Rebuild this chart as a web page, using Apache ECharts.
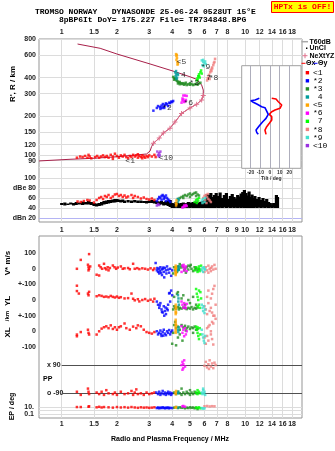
<!DOCTYPE html>
<html><head><meta charset="utf-8">
<script src="https://cdn.jsdelivr.net/npm/echarts@6/dist/echarts.min.js"></script>
<style>html,body{margin:0;padding:0;background:#fff}#c{width:335px;height:451px}</style>
</head><body><div id="c"></div>
<script>
// ---------- axis ticks ----------
const freqTicks = [1,1.5,2,3,4,5,6,7,8,10,12,14,16,18];
const freqTicksMid = [1,1.5,2,3,4,5,6,7,8,9,10,12,14,16,18];
const freqRange = [0.752, 20.4];
const heightTicks = [80,90,100,120,150,200,300,400,600,800];
const heightRange = [74.8, 800];
const dbTicks = [20,40,60,80,100];
const tiltTicks = [-20,-10,0,10,20];
const tiltRange = [-29.2, 32];
const ppLevels = [90,-90];
const epTicks = [0.1,1,10];

// ---------- classes ----------
const classNames = ['<1','*2','*3',' 4','<5','*6',' 7','*8','*9','<10'];
const classColors = ['#ff0000','#0000ff','#228b22','#009c9c','#ffa500','#ff00ff','#00ff00','#f08080','#40e0d0','#9a30e0'];

// ---------- profile (R vs plasma frequency) ----------
const profFreq   = [0.752,1.11,1.5,2.0,2.9,3.03,3.09,3.16,3.4,3.58,3.89,4.14,4.5,5.0,5.44,5.79,5.91,5.91,5.79,5.44,5.0,4.14,3.03,2.0,1.62,1.22];
const profHeight = [89.6,92.3,94,96.6,101.5,107,116,123,135,148,161,180,210,232,248,268,290,320,350,388,406,445,511,611,677,731];
const nextFreq   = [3.16,3.4,3.58,3.89,4.14,4.5,5.0,5.44,5.79,5.91];
const nextHeight = [123,135,148,161,180,210,232,248,268,290];

// ---------- tilt inset ----------
const tiltXRed  = [1.8,6.2,8.6,12.1,10.3,5.2,1.8,-0.7,1.8,1.8,-0.7,-3.4,-5.2,-4.1];
const tiltYRed  = [31.8,32.5,35.1,38.3,41.5,43.2,44.8,47.4,49.7,52.9,56.1,59.5,62.7,66.9];
const tiltXBlue = [-11,-15.5,-19.9,-17.2,-13.1,-8.6,-5.2,-6.9,-3.4,-1.8,-4.1,-7.5,-11,-14.4,-13.7,-12.1];
const tiltYBlue = [31.8,33.4,34.1,35.7,37.6,40.0,40.9,42.5,44.2,47.4,51.3,54.6,58.5,62.7,65.0,66.9];

// ---------- noise (black, dBe panel) ----------
const noiseFreq = [1.0,1.04,1.08,1.12,1.16,1.2,1.25,1.3,1.35,1.4,1.45,1.5,1.55,1.6,1.65,1.7,1.75,1.8,1.85,1.9,1.95,2.0,2.05,2.1,2.15,2.2,2.3,2.4,2.5,2.6,2.7,2.8,2.9,3.0,3.1,3.2,3.3,3.4,3.5,3.6,3.7,3.8,3.9,4.0,4.1,4.2,4.3,4.4,4.5,4.6,4.7,4.8,4.9,5.0,5.1,5.2,5.3,5.4,5.5,5.6,5.7,5.8,5.9,6.0,6.1,6.2,6.3,6.4,6.5,6.6,6.7,6.8,6.95,7.1,7.2,7.3,7.5,7.7,7.9,8.1,8.3,8.5,8.7,8.9,9.1,9.3,9.5,9.7,9.9,10.1,10.3,10.5,10.7,10.9,11.1,11.3,11.6,11.9,12.2,12.5,12.8,13.1,13.4,13.7,14.0,14.3,14.6,14.8,15.0];
const noiseLow  = [46,45,46,47,45,46,47,46,47,47,46,44,43,44,45,47,48,49,50,51,51,52,52,51,52,50,51,50,51,50,50,50,49,50,50,49,48,46,47,45,46,44,42,40,40,41,40,40,41,41,40,40,41,40,41,40,40,41,40,40,41,40,41,40,40,40,41,40,40,42,40,40,41,40,40,41,40,41,40,41,40,41,40,41,40,41,40,41,40,41,40,41,40,41,40,41,40,41,40,41,40,41,40,41,40,41,40,41,40];
const noiseHigh = [50,51,49,51,50,52,51,53,52,54,52,50,49,50,52,54,55,56,56,57,58,58,57,56,57,55,56,55,56,55,55,54,54,55,56,55,54,53,54,52,54,55,56,50,49,52,50,49,50,51,49,50,52,51,50,52,51,53,51,50,52,53,54,55,58,68,60,66,70,62,58,66,70,64,60,71,60,66,70,58,64,68,62,59,66,63,69,72,76,70,65,73,62,67,60,64,58,62,56,60,54,58,52,50,47,50,46,66,62];

// ---------- echo classes: [freq MHz, value] ----------
const c1Top = [[1.21,95],[1.26,97],[1.3,96],[1.34,98],[1.38,95],[1.42,97],[1.45,94],[1.52,96],[1.56,98],[1.6,95],[1.64,97],[1.68,99],[1.72,96],[1.76,98],[1.8,95],[1.85,100],[1.9,97],[1.95,102],[2.0,98],[2.05,95],[2.1,99],[2.15,97],[2.2,100],[2.25,96],[2.3,94],[2.35,98],[2.4,96],[2.45,100],[2.5,97],[2.55,99],[2.6,95],[2.65,98],[2.7,96],[2.75,99],[2.8,97],[2.85,95],[2.9,98],[2.95,96],[3.0,99],[3.1,97],[3.2,100],[3.25,96],[1.4,100],[1.9,93],[2.6,101],[2.75,94]];
const c1Dbe = [[1.22,53],[1.27,52],[1.32,54],[1.38,56],[1.42,55],[1.5,51],[1.55,56],[1.6,60],[1.64,62],[1.68,58],[1.72,64],[1.76,62],[1.8,66],[1.85,60],[1.9,63],[1.95,67],[2.0,68],[2.05,64],[2.1,66],[2.15,62],[2.2,65],[2.25,61],[2.3,63],[2.4,66],[2.45,60],[2.5,64],[2.6,62],[2.7,59],[2.8,61],[2.9,58],[3.0,57],[3.1,59],[3.2,56]];
const c1V = [[1.21,0],[1.27,57],[1.41,94],[1.39,26],[1.4,10],[1.41,0],[1.4,-10],[1.43,15],[1.55,-38],[1.6,-43],[1.6,21],[1.63,10],[1.66,0],[1.7,32],[1.72,4],[1.75,-4],[1.78,10],[1.8,-10],[1.83,5],[1.9,21],[1.94,10],[1.98,0],[2.02,8],[2.1,15],[2.15,0],[2.2,3],[2.3,5],[2.35,-3],[2.45,32],[2.5,0],[2.58,4],[2.65,-2],[2.75,3],[2.85,0],[2.95,-5],[3.05,3],[3.15,-8],[3.2,2]];
const c1YL = [[1.21,91],[1.21,57],[1.24,41],[1.39,41],[1.41,52],[1.4,30],[1.55,24],[1.6,30],[1.65,26],[1.7,20],[1.75,22],[1.8,18],[1.85,26],[1.9,20],[1.95,16],[2.0,22],[2.05,14],[2.1,18],[2.2,10],[2.3,12],[2.4,41],[2.45,8],[2.5,-2],[2.6,5],[2.65,-9],[2.75,0],[2.85,6],[2.95,-5],[3.05,2],[3.15,-10],[3.2,8]];
const c1XL = [[1.21,-21],[1.21,-32],[1.27,-5],[1.39,10],[1.4,-10],[1.41,-21],[1.55,-21],[1.6,0],[1.65,17],[1.7,26],[1.75,32],[1.8,20],[1.85,38],[1.9,15],[1.95,26],[2.0,10],[2.05,26],[2.1,32],[2.2,50],[2.25,20],[2.35,10],[2.45,30],[2.55,20],[2.6,38],[2.7,32],[2.8,10],[2.9,-5],[3.0,-10],[3.1,-15],[3.2,-5]];
const c1PP = [[1.21,-80],[1.27,-100],[1.39,-60],[1.4,-80],[1.41,-95],[1.55,-85],[1.6,-95],[1.65,-80],[1.7,-100],[1.75,-70],[1.8,-90],[1.9,-95],[1.95,-85],[2.0,-100],[2.1,-80],[2.2,-95],[2.3,-90],[2.4,-75],[2.45,-100],[2.5,-85],[2.55,-65],[2.6,-95],[2.7,-90],[2.8,-100],[2.9,-85],[3.0,-95],[3.1,-90],[3.2,-85]];
const c1EP = [[1.21,12],[1.27,12],[1.4,15],[1.41,20],[1.55,10],[1.6,14],[1.65,9],[1.7,12],[1.8,10],[1.9,8],[2.0,12],[2.1,9],[2.2,11],[2.3,8],[2.4,12],[2.5,9],[2.6,7],[2.7,10],[2.8,8],[2.9,9],[3.0,7],[3.1,8],[3.2,10]];
const c2Top = [[3.16,221],[3.3,232],[3.35,240],[3.43,236],[3.5,242],[3.52,232],[3.56,249],[3.6,238],[3.66,245],[3.7,252],[3.75,248],[3.8,240],[3.85,255],[3.9,253],[3.95,260],[4.0,258],[4.05,263],[3.45,228],[3.62,232]];
const c2Dbe = [[3.3,54],[3.35,58],[3.4,62],[3.45,60],[3.5,64],[3.55,66],[3.6,63],[3.65,61],[3.7,65],[3.75,60],[3.8,57],[3.85,55],[3.9,52],[3.5,56],[3.6,58],[3.7,54]];
const c2V = [[3.25,37],[3.3,-10],[3.32,5],[3.35,-20],[3.38,0],[3.4,-30],[3.42,-15],[3.45,10],[3.5,-5],[3.52,-40],[3.55,0],[3.6,-20],[3.62,-55],[3.65,5],[3.7,-10],[3.72,-30],[3.75,15],[3.8,-5],[3.85,-25],[3.9,0],[3.95,-45],[4.0,-10],[3.48,-25],[3.58,8]];
const c2YL = [[3.3,-10],[3.35,-30],[3.4,-50],[3.45,-20],[3.5,-60],[3.55,-80],[3.6,-40],[3.65,-70],[3.7,-90],[3.75,-55],[3.8,-30],[3.85,42],[3.9,-10],[3.95,60],[4.0,30],[3.62,-100],[3.52,-75],[3.42,-35],[3.78,-65],[3.68,-48],[3.88,45]];
const c2XL = [[3.3,0],[3.35,-20],[3.4,-10],[3.45,5],[3.5,-30],[3.55,-5],[3.6,10],[3.65,-15],[3.7,-25],[3.75,0],[3.8,-10],[3.85,8],[3.9,-20],[3.95,-5],[4.0,5],[3.48,-18],[3.58,-28]];
const c2PP = [[3.28,-85],[3.35,-95],[3.4,-80],[3.45,-100],[3.5,-90],[3.55,-75],[3.6,-95],[3.65,-85],[3.7,-100],[3.75,-90],[3.8,-80],[3.85,-95],[3.9,-85],[3.95,-100],[4.0,-90]];
const c2EP = [[3.3,6],[3.35,9],[3.4,5],[3.45,8],[3.5,6],[3.55,10],[3.6,7],[3.65,5],[3.7,8],[3.75,6],[3.8,9],[3.85,5],[3.9,7],[4.0,6]];
const c3Top = [[4.05,405],[4.1,398],[4.15,392],[4.1,385],[4.2,383],[4.25,378],[4.3,372],[4.35,366],[4.4,370],[4.45,362],[4.5,360],[4.55,356],[4.6,362],[4.65,352],[4.7,358],[4.8,350],[4.9,355],[5.0,352],[5.1,356],[5.2,350],[5.3,354],[5.4,358],[5.5,352],[4.2,392],[4.3,360],[4.4,355],[4.75,365],[5.0,362],[5.6,360],[5.7,365]];
const c3Dbe = [[4.3,58],[4.4,60],[4.5,62],[4.6,64],[4.7,66],[4.8,64],[4.9,67],[5.0,69],[5.1,66],[5.2,68],[5.3,70],[5.4,71],[5.5,67],[5.6,65],[4.6,60],[5.0,62],[5.4,64]];
const c3V = [[4.05,-30],[4.1,10],[4.15,-10],[4.2,5],[4.3,15],[4.35,-5],[4.4,30],[4.5,20],[4.6,10],[4.65,-10],[4.7,0],[4.8,10],[4.9,-5],[5.0,15],[5.1,0],[5.2,-15],[5.3,10],[5.4,5],[5.5,-10],[5.6,0],[4.25,-20],[4.45,8],[4.75,-25],[5.05,25],[5.35,-5],[4.9,20]];
const c3YL = [[4.05,-60],[4.1,-40],[4.15,-50],[4.2,-55],[4.3,-45],[4.35,-60],[4.4,-50],[4.5,-55],[4.6,-48],[4.7,-52],[4.8,-58],[4.9,-50],[5.0,-55],[5.1,-45],[5.2,-60],[5.3,-50],[5.4,-55],[5.5,-48],[4.3,50],[4.25,40],[4.6,30],[4.5,10],[4.9,0],[5.2,20],[4.1,20],[5.0,-20],[4.7,-30],[5.4,-30]];
const c3XL = [[4.05,-10],[4.1,40],[4.15,60],[4.2,20],[4.3,30],[4.4,10],[4.5,40],[4.6,25],[4.7,35],[4.8,20],[4.9,30],[5.0,15],[5.1,25],[5.2,20],[5.3,30],[5.4,10],[5.5,15],[4.3,-40],[4.2,-90],[4.55,-60],[4.4,-20],[5.2,-10],[4.0,-80],[4.75,5]];
const c3PP = [[4.1,-85],[4.2,-95],[4.3,-80],[4.4,-90],[4.5,-100],[4.6,-85],[4.7,-95],[4.8,-80],[4.9,-90],[5.0,-100],[5.1,-85],[5.2,-95],[5.3,-80],[5.4,-90],[5.5,-88],[4.5,-60],[5.0,-70]];
const c3EP = [[4.1,8],[4.2,12],[4.3,6],[4.4,10],[4.5,7],[4.6,9],[4.7,5],[4.8,8],[4.9,6],[5.0,10],[5.1,7],[5.2,9],[5.3,5],[5.4,8],[5.5,3]];
const c4Top = [[4.15,440],[4.2,425],[4.18,410],[4.25,400],[4.22,390],[4.3,420],[4.2,450],[4.28,430]];
const c4Dbe = [[4.3,52],[4.35,56],[4.3,58]];
const c4V = [[4.3,-10],[4.32,5],[4.35,15],[4.33,-5]];
const c4YL = [[4.3,30],[4.32,-10],[4.35,-30],[4.33,10]];
const c4XL = [[4.3,10],[4.32,-5],[4.35,25]];
const c4PP = [[4.3,-90],[4.32,-80]];
const c4EP = [[4.3,8]];
const c5Top = [[4.2,610],[4.22,590],[4.25,570],[4.22,550],[4.27,530],[4.3,515],[4.28,505],[4.24,600]];
const c5Dbe = [[4.2,45],[4.2,50],[4.22,55],[4.22,48]];
const c5V = [[4.18,-40],[4.18,-30],[4.18,-20],[4.18,-10],[4.18,0],[4.18,10],[4.18,20],[4.2,-25],[4.2,5]];
const c5YL = [[4.18,-30],[4.18,-45],[4.18,-60],[4.18,-75],[4.18,-90],[4.18,-105],[4.2,-50],[4.2,-80]];
const c5XL = [[4.18,74],[4.18,60],[4.18,45],[4.18,30],[4.18,15],[4.18,0],[4.18,-10],[4.2,40]];
const c5PP = [[4.18,-85],[4.18,-95],[4.2,-75]];
const c5EP = [[4.18,9],[4.2,12]];
const c6Top = [[4.5,255],[4.55,265],[4.6,270],[4.65,258],[4.7,262],[4.6,290],[4.7,290],[4.8,288],[4.55,275],[4.75,268]];
const c6Dbe = [[4.6,42],[4.65,45],[4.7,43],[4.75,46],[4.8,44],[4.55,41]];
const c6V = [[4.5,-20],[4.55,20],[4.6,10],[4.65,-10],[4.7,0],[4.75,15],[4.8,-15],[4.62,25]];
const c6YL = [[4.5,-10],[4.55,-30],[4.6,-50],[4.65,-20],[4.7,-40],[4.75,-52],[4.8,-25]];
const c6XL = [[4.5,32],[4.55,-10],[4.6,10],[4.65,-32],[4.7,20],[4.75,-20],[4.8,0]];
const c6PP = [[4.5,90],[4.55,110],[4.6,70],[4.65,120],[4.6,95],[4.7,80],[4.55,60]];
const c6EP = [[4.55,20],[4.6,25],[4.7,15]];
const c7Top = [[5.45,380],[5.5,395],[5.55,410],[5.6,425],[5.7,440],[5.75,455],[5.65,400],[5.8,430],[5.5,385],[5.6,410]];
const c7Dbe = [[5.3,52],[5.4,56],[5.5,58],[5.45,50],[5.55,54],[5.6,60]];
const c7V = [[5.3,-10],[5.4,10],[5.5,-20],[5.55,0],[5.6,15],[5.7,-5],[5.75,20],[5.65,-15]];
const c7YL = [[5.4,70],[5.45,40],[5.5,20],[5.55,0],[5.6,-30],[5.65,-50],[5.7,50],[5.75,10],[5.5,-40],[5.6,60]];
const c7XL = [[5.4,30],[5.45,10],[5.5,-10],[5.55,-30],[5.6,-50],[5.65,20],[5.7,-20],[5.5,25]];
const c7PP = [[5.4,-85],[5.5,-95],[5.6,-80],[5.7,-90],[5.5,-70]];
const c7EP = [[5.4,8],[5.5,6],[5.6,10],[5.7,5]];
const c8Top = [[6.2,380],[6.3,400],[6.35,420],[6.45,440],[6.5,460],[6.6,480],[6.7,500],[6.8,530],[6.85,560],[6.4,390],[6.55,450],[6.75,520],[6.25,395],[6.6,470]];
const c8Dbe = [[5.9,60],[6.0,64],[6.1,66],[6.2,62],[6.3,58],[6.4,55],[6.5,52],[6.05,56],[6.25,68],[6.15,50]];
const c8V = [[6.0,-20],[6.1,10],[6.2,-10],[6.3,20],[6.4,0],[6.5,-15],[6.6,15],[6.7,-5],[6.8,25],[6.5,5],[6.3,-25],[6.9,0]];
const c8YL = [[6.0,-40],[6.1,-60],[6.2,-90],[6.3,-20],[6.4,-70],[6.5,10],[6.6,40],[6.7,-100],[6.8,90],[6.5,-50],[6.3,60],[6.6,-80],[6.9,-30],[6.2,20],[6.7,70]];
const c8XL = [[6.0,-40],[6.1,-80],[6.2,20],[6.3,-60],[6.4,40],[6.5,-20],[6.6,60],[6.7,-85],[6.8,100],[6.5,0],[6.3,30],[6.6,-50],[6.9,80],[6.2,-30],[6.7,50]];
const c8PP = [[6.0,85],[6.1,110],[6.2,75],[6.3,95],[6.4,120],[6.5,80],[6.6,100],[6.7,70],[6.8,105],[6.9,90],[6.35,65]];
const c8EP = [[6.0,20],[6.2,25],[6.4,18],[6.6,22],[6.8,20]];
const c9Top = [[5.8,545],[5.9,530],[6.0,520],[5.85,500],[6.1,510],[5.95,490],[5.9,550],[6.05,535]];
const c9Dbe = [[5.8,55],[5.9,58],[6.0,52],[6.05,60],[5.85,50]];
const c9V = [[5.8,-10],[5.85,5],[5.9,-20],[5.95,10],[6.0,0],[6.05,-5]];
const c9YL = [[5.8,-30],[5.85,-50],[5.9,-70],[5.95,-40],[6.0,-83],[6.05,-60]];
const c9XL = [[5.8,10],[5.85,-20],[5.9,-40],[5.95,-60],[6.0,-75],[6.05,-30]];
const c9PP = [[5.8,-85],[5.85,-95],[5.9,-70],[5.95,-90],[6.0,-80],[6.05,-100],[5.9,-60]];
const c9EP = [[5.8,6],[5.9,4],[6.0,5]];
const c10Top = [[3.32,106],[3.35,100],[3.4,103],[3.45,106],[3.42,99],[3.38,97]];
const c10Dbe = [[3.3,45],[3.35,48],[3.4,46]];

// ---------- top panel text labels ----------
const topLabelText   = ['<1','<10','*2','*6','<5','4','*3','*9','7','*8'];
const topLabelFreq   = [2.36,3.7,3.75,4.9,4.5,4.6,5.27,6.08,6.32,6.72];
const topLabelHeight = [90,95,231,252,526,421,361,483,400,400];

// ================= build =================
const L = Math.log10;
const XMIN = L(freqRange[0]), XMAX = L(freqRange[1]);
const toXY = a => a.map(p => [L(p[0]), p[1]]);
const toXLogY = a => a.map(p => [L(p[0]), L(p[1])]);
const fmtFreq = v => String(Math.round(Math.pow(10, v) * 10) / 10);
const SANS = 'Liberation Sans', MONO = 'Liberation Mono';
const lbl = {fontFamily: SANS, fontSize: 7, fontWeight: 'bold', color: '#222', hideOverlap: false};
const GRID_C = '#dcdcdc', FRAME_C = '#959595';

const classData = [
  [c1Top,c1Dbe,c1V,c1YL,c1XL,c1PP,c1EP],
  [c2Top,c2Dbe,c2V,c2YL,c2XL,c2PP,c2EP],
  [c3Top,c3Dbe,c3V,c3YL,c3XL,c3PP,c3EP],
  [c4Top,c4Dbe,c4V,c4YL,c4XL,c4PP,c4EP],
  [c5Top,c5Dbe,c5V,c5YL,c5XL,c5PP,c5EP],
  [c6Top,c6Dbe,c6V,c6YL,c6XL,c6PP,c6EP],
  [c7Top,c7Dbe,c7V,c7YL,c7XL,c7PP,c7EP],
  [c8Top,c8Dbe,c8V,c8YL,c8XL,c8PP,c8EP],
  [c9Top,c9Dbe,c9V,c9YL,c9XL,c9PP,c9EP],
  [c10Top,c10Dbe,[],[],[],[],[]]
];
const panels = [
  {xi:2, yi:1, conv:toXLogY},
  {xi:3, yi:2, conv:toXY},
  {xi:6, yi:5, conv:toXY},
  {xi:7, yi:6, conv:toXY},
  {xi:8, yi:7, conv:toXY},
  {xi:9, yi:8, conv:toXY},
  {xi:10, yi:9, conv:toXLogY}
];

const W = 263, LEFT = 39;
const INSET = {left:241.7, top:65.7, width:59.3, height:102.6};
const grid = [
  {left:LEFT, top:39, width:W, height:183, show:true, borderColor:FRAME_C, borderWidth:1, backgroundColor:'transparent'},
  {left:LEFT, top:39, width:W, height:132},
  {left:LEFT, top:172, width:W, height:50},
  INSET,
  {left:LEFT, top:236, width:W, height:182, show:true, borderColor:FRAME_C, borderWidth:1, backgroundColor:'transparent'},
  {left:LEFT, top:236, width:W, height:48.4},
  {left:LEFT, top:284.3, width:W, height:31.4},
  {left:LEFT, top:315.7, width:W, height:34.6},
  {left:LEFT, top:355.6, width:W, height:44},
  {left:LEFT, top:400, width:W, height:17.7}
].map(g => Object.assign({containLabel:false, outerBoundsMode:'none'}, g));

const hiddenX = gi => ({type:'value', gridIndex:gi, min:XMIN, max:XMAX, show:false});
const xAxis = [
  {type:'value', gridIndex:0, min:XMIN, max:XMAX, position:'top',
   axisLine:{show:false}, axisTick:{show:false, customValues:freqTicks.map(L)},
   splitLine:{show:true, lineStyle:{color:GRID_C, width:1}},
   axisLabel:Object.assign({customValues:freqTicks.map(L), formatter:fmtFreq, margin:3}, lbl)},
  {type:'value', gridIndex:0, min:XMIN, max:XMAX, position:'bottom',
   axisLine:{show:false}, axisTick:{show:false}, splitLine:{show:false},
   axisLabel:Object.assign({customValues:freqTicksMid.map(L), formatter:fmtFreq, margin:5}, lbl)},
  hiddenX(1), hiddenX(2),
  {type:'value', gridIndex:3, min:tiltRange[0], max:tiltRange[1], z:10,
   axisLine:{show:false}, axisTick:{show:false, customValues:tiltTicks},
   splitLine:{show:true, lineStyle:{color:'#aeaebc', width:1}},
   axisLabel:{customValues:tiltTicks, fontFamily:SANS, fontSize:5, fontWeight:'bold', color:'#333', margin:1.5, hideOverlap:false},
   name:'Tilt / deg', nameLocation:'middle', nameGap:8,
   nameTextStyle:{fontFamily:SANS, fontSize:5, fontWeight:'bold', color:'#333'}},
  {type:'value', gridIndex:4, min:XMIN, max:XMAX, position:'bottom',
   axisLine:{show:false}, axisTick:{show:false, customValues:freqTicks.map(L)},
   splitLine:{show:true, lineStyle:{color:GRID_C, width:1}},
   axisLabel:Object.assign({customValues:freqTicks.map(L), formatter:fmtFreq, margin:3}, lbl)},
  hiddenX(5), hiddenX(6), hiddenX(7), hiddenX(8), hiddenX(9)
];

const yAxis = [
  {type:'value', gridIndex:0, min:0, max:1, show:false},
  {type:'value', gridIndex:1, min:L(heightRange[0]), max:L(heightRange[1]),
   axisLine:{show:false}, axisTick:{show:false, customValues:heightTicks.map(L)},
   splitLine:{show:true, lineStyle:{color:GRID_C}},
   axisLabel:Object.assign({customValues:heightTicks.map(L), formatter:v => String(Math.round(Math.pow(10, v))), margin:3}, lbl)},
  {type:'value', gridIndex:2, min:12, max:112,
   axisLine:{show:false}, axisTick:{show:false, customValues:dbTicks},
   splitLine:{show:true, lineStyle:{color:['#b4b4f4', GRID_C, GRID_C, GRID_C, GRID_C]}},
   axisLabel:Object.assign({customValues:dbTicks, margin:3,
     formatter:v => v === 80 ? 'dBe 80' : (v === 20 ? 'dBn 20' : String(v))}, lbl)},
  {type:'value', gridIndex:3, min:0, max:100, inverse:true, show:false},
  {type:'value', gridIndex:4, min:0, max:1, show:false},
  {type:'value', gridIndex:5, min:-100, max:210, axisLine:{show:false}, axisTick:{show:false}, splitLine:{show:false},
   axisLabel:Object.assign({customValues:[0,100], margin:3}, lbl)},
  {type:'value', gridIndex:6, min:-100, max:100, axisLine:{show:false}, axisTick:{show:false}, splitLine:{show:false},
   axisLabel:Object.assign({customValues:[-100,0,100], margin:3, showMinLabel:true, showMaxLabel:true,
     formatter:v => v === 0 ? '0' : '+-100'}, lbl)},
  {type:'value', gridIndex:7, min:-122, max:100, axisLine:{show:false}, axisTick:{show:false}, splitLine:{show:false},
   axisLabel:Object.assign({customValues:[-100,0], margin:3}, lbl)},
  {type:'value', gridIndex:8, min:-130, max:150, axisLine:{show:false}, axisTick:{show:false}, splitLine:{show:false},
   axisLabel:Object.assign({customValues:ppLevels, inside:true, margin:8,
     formatter:v => v > 0 ? 'x ' + v : 'o ' + v}, lbl)},
  {type:'value', gridIndex:9, position:'left', min:-2.1, max:3.18, axisLine:{show:false}, axisTick:{show:false, customValues:epTicks.map(L)},
   splitLine:{show:true, lineStyle:{color:GRID_C}},
   axisLabel:Object.assign({}, lbl, {customValues:[1], margin:5, formatter:() => '10.'})},
  {type:'value', gridIndex:9, position:'left', offset:0, min:-2.1, max:3.18, axisLine:{show:false}, axisTick:{show:false}, splitLine:{show:false},
   axisLabel:Object.assign({}, lbl, {customValues:[-1], margin:5, formatter:() => '0.1'})}
];

const series = [];
series.push({
  type:'custom', xAxisIndex:3, yAxisIndex:2, silent:true, z:2,
  data: noiseFreq.map((f, i) => [L(f), noiseLow[i], noiseHigh[i]]),
  renderItem: (params, api) => {
    const p1 = api.coord([api.value(0), api.value(1)]);
    const p2 = api.coord([api.value(0), api.value(2)]);
    return {type:'rect', shape:{x:p1[0] - 1.6, y:p2[1], width:3.2, height:p1[1] - p2[1]}, style:{fill:'#000'}};
  }
});
series.push({type:'line', xAxisIndex:2, yAxisIndex:1, silent:true, showSymbol:false, z:3,
  lineStyle:{color:'#a8204a', width:1}, data: profFreq.map((f, i) => [L(f), L(profHeight[i])])});
series.push({type:'line', xAxisIndex:2, yAxisIndex:1, silent:true, z:4,
  symbol:'path://M2,0h1v5h-1zM0,2h5v1h-5z', symbolSize:5, showAllSymbol:true,
  lineStyle:{color:'#e0708c', width:1}, itemStyle:{color:'#e0708c'},
  data: nextFreq.map((f, i) => [L(f), L(nextHeight[i])])});
classData.forEach((sets, ci) => sets.forEach((arr, pi) => {
  if (!arr.length) return;
  const pn = panels[pi];
  const s = {type:'scatter', xAxisIndex:pn.xi, yAxisIndex:pn.yi, symbol:'rect', symbolSize:2.5,
    itemStyle:{color:classColors[ci]}, data:pn.conv(arr), silent:true, z:5, clip:true};
  if (ci === 0 && pi === 5) {
    s.markLine = {silent:true, symbol:'none', animation:false, label:{show:false},
      lineStyle:{color:'#505050', width:1, type:'solid'},
      data: ppLevels.map(v => [{coord:[0, v]}, {coord:[XMAX, v]}])};
  }
  series.push(s);
}));
series.push({type:'scatter', xAxisIndex:2, yAxisIndex:1, symbolSize:0, silent:true, z:8,
  data: topLabelText.map((t, i) => ({name:t, value:[L(topLabelFreq[i]), L(topLabelHeight[i])]})),
  label:{show:true, position:'inside', formatter:p => p.name, fontFamily:MONO, fontSize:8, color:'#000'}});
series.push({type:'line', xAxisIndex:4, yAxisIndex:3, silent:true, showSymbol:false, z:12,
  lineStyle:{color:'#ff0000', width:1.6}, data: tiltXRed.map((x, i) => [x, tiltYRed[i]])});
series.push({type:'line', xAxisIndex:4, yAxisIndex:3, silent:true, showSymbol:false, z:12,
  lineStyle:{color:'#0000ff', width:1.6}, data: tiltXBlue.map((x, i) => [x, tiltYBlue[i]])});

// ---------- graphic ----------
const txt = (x, y, text, font, opt) => {
  opt = opt || {};
  return {type:'text', x, y, silent:true, rotation: opt.rotation || 0, z: 20,
    style:Object.assign({text, font, fill:'#000', align:'left', verticalAlign:'middle', textAlign:'left', textVerticalAlign:'middle'}, opt.style || {})};
};
const graphic = [
  {type:'rect', shape:{x:INSET.left, y:INSET.top, width:INSET.width, height:INSET.height}, style:{fill:'#fff', stroke:'#a0a0a0', lineWidth:1}, z:5, silent:true},
  txt(35, 11.5, 'TROMSO NORWAY   DYNASONDE 25-06-24 0528UT 15°E', 'bold 8px ' + MONO),
  txt(59, 19.7, '8pBP6It DoY= 175.227 File= TR734848.BPG', 'bold 8px ' + MONO),
  {type:'rect', shape:{x:271.5, y:1.5, width:62, height:11}, style:{fill:'#ffff00', stroke:'#ff0000', lineWidth:1}, z:20, silent:true},
  txt(302.5, 7.3, 'HPTx is OFF!', 'bold 8px ' + MONO, {style:{fill:'#ff0000', align:'center', textAlign:'center'}}),
  txt(13, 84, "R', R / km", 'bold 8px ' + SANS, {rotation:Math.PI/2, style:{align:'center', textAlign:'center'}}),
  txt(7.5, 263, 'V* m/s', 'bold 8px ' + SANS, {rotation:Math.PI/2, style:{align:'center', textAlign:'center'}}),
  txt(7.5, 301, 'YL', 'bold 8px ' + SANS, {rotation:Math.PI/2, style:{align:'center', textAlign:'center'}}),
  txt(7.5, 316, '/km', 'bold 6px ' + SANS, {rotation:Math.PI/2, style:{align:'center', textAlign:'center'}}),
  txt(7.5, 332.5, 'XL', 'bold 8px ' + SANS, {rotation:Math.PI/2, style:{align:'center', textAlign:'center'}}),
  txt(12, 406.5, 'EP / deg', 'bold 7px ' + SANS, {rotation:Math.PI/2, style:{align:'center', textAlign:'center'}}),
  txt(43, 379, 'PP', 'bold 7px ' + SANS),
  txt(170, 439, 'Radio and Plasma Frequency / MHz', 'bold 7px ' + SANS, {style:{align:'center', textAlign:'center'}}),
  {type:'line', shape:{x1:301.5, y1:41.7, x2:308, y2:41.7}, style:{stroke:'#a8a8a8', lineWidth:1.5}, z:20, silent:true},
  txt(309.5, 41.7, 'T60dB', 'bold 7px ' + SANS),
  {type:'rect', shape:{x:306, y:47.6, width:1.4, height:1.4}, style:{fill:'#000'}, z:20, silent:true},
  txt(309.5, 48.3, 'UnCl', 'bold 7px ' + SANS),
  {type:'rect', shape:{x:302.5, y:55.2, width:5, height:1}, style:{fill:'#e0708c'}, z:20, silent:true},
  {type:'rect', shape:{x:304.5, y:53.2, width:1, height:5}, style:{fill:'#e0708c'}, z:20, silent:true},
  txt(309.5, 55.7, 'NeXtYZ', 'bold 7px ' + SANS),
  {type:'line', shape:{x1:301.5, y1:63.3, x2:305.5, y2:63.3}, style:{stroke:'#ff0000', lineWidth:1}, z:20, silent:true},
  txt(306, 63.3, 'Θx', 'bold 7px ' + SANS),
  {type:'line', shape:{x1:313.5, y1:63.3, x2:317.5, y2:63.3}, style:{stroke:'#0000ff', lineWidth:1}, z:20, silent:true},
  txt(318, 63.3, 'Θy', 'bold 7px ' + SANS)
];
classNames.forEach((n, i) => {
  const y = 72.7 + i * 8.1;
  graphic.push({type:'rect', shape:{x:305.7, y:y - 1.7, width:3.4, height:3.4}, style:{fill:classColors[i]}, z:20, silent:true});
  graphic.push(txt(313, y, n, '8px ' + MONO));
});

const chart = echarts.init(document.getElementById('c'), null, {renderer:'canvas'});
chart.setOption({animation:false, backgroundColor:'#fff', grid, xAxis, yAxis, series, graphic});
</script></body></html>
